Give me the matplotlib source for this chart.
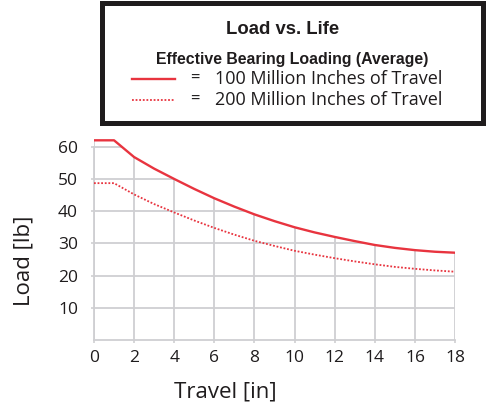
import numpy as np
import matplotlib
matplotlib.use("Agg")
import matplotlib.pyplot as plt
from matplotlib.patches import Rectangle
from matplotlib.lines import Line2D

# travel [in] and load [lb]
travel = [0, 1, 2, 3, 4, 5, 6, 7, 8, 9, 10, 11, 12, 13, 14, 15, 16, 17, 18]
load_100 = [62, 62, 56.8, 53.2, 50, 46.9, 44, 41.4, 39, 36.9, 35, 33.4, 32, 30.7, 29.5, 28.6, 27.9, 27.4, 27.1]
load_200 = [48.7, 48.7, 45.2, 42.2, 39.6, 37.1, 34.8, 32.7, 30.8, 29.2, 27.7, 26.5, 25.4, 24.4, 23.5, 22.7, 22.1, 21.6, 21.2]
xticks = [0, 2, 4, 6, 8, 10, 12, 14, 16, 18]
yticks = [10, 20, 30, 40, 50, 60]

red = "#e8343f"
grid_col = "#cfcfd2"
txt = "#1f1c1d"
num_font = "Open Sans"

fig = plt.figure(figsize=(4.92, 4.05), dpi=100)
ax = fig.add_axes([0.191, 0.1605, 0.734, 0.501])

ax.set_xlim(0, 18)
ax.set_ylim(0, 63)
ax.set_xticks(xticks)
ax.set_yticks(yticks)
ax.set_xticklabels([str(v) for v in xticks], fontfamily=num_font, fontsize=12.5)
ax.set_yticklabels([str(v) for v in yticks], fontfamily=num_font, fontsize=12.5)

# grid only below the solid curve
under = ax.fill_between(travel, 0, load_100, color="none", lw=0)
clip = under.get_paths()[0]
ax.grid(True, color=grid_col, lw=1.3)
for t in ax.xaxis.get_major_ticks() + ax.yaxis.get_major_ticks():
    t.gridline.set_clip_path(clip, ax.transData)

ax.plot(travel, load_100, color=red, lw=1.7, zorder=3)
ax.plot(travel, load_200, color=red, lw=1.3, ls=(0, (1, 1)), zorder=3)

for s in ["top", "right"]:
    ax.spines[s].set_visible(False)
ax.spines["left"].set_bounds(0, 60)
ax.spines["left"].set_color(grid_col)
ax.spines["bottom"].set_color(grid_col)
ax.spines["left"].set_linewidth(1.3)
ax.spines["bottom"].set_linewidth(1.3)
ax.tick_params(axis="both", colors=grid_col, length=2.5, width=1.2, labelcolor=txt)
ax.tick_params(axis="y", pad=9)
ax.tick_params(axis="x", pad=5)

ax.set_xlabel("Travel [in]", fontfamily=num_font, fontsize=16, color=txt)
ax.xaxis.set_label_coords(0.363, -0.205)
ax.set_ylabel("Load [lb]", fontfamily=num_font, fontsize=16, color=txt)
ax.yaxis.set_label_coords(-0.165, 0.39)

# legend box
fig.patches.append(Rectangle((0.207, 0.696), 0.774, 0.296, transform=fig.transFigure,
                             fill=False, edgecolor=txt, lw=3.6))
fig.text(0.575, 0.926, "Load vs. Life", ha="center", va="center",
         fontfamily="Liberation Sans", fontweight="bold", fontsize=13.3, color=txt)
fig.text(0.594, 0.852, "Effective Bearing Loading (Average)", ha="center", va="center",
         fontfamily="Liberation Sans", fontweight="bold", fontsize=11.4, color=txt)
fig.lines.append(Line2D([0.268, 0.356], [0.805, 0.805], transform=fig.transFigure,
                        color=red, lw=1.7))
fig.lines.append(Line2D([0.268, 0.356], [0.753, 0.753], transform=fig.transFigure,
                        color=red, lw=1.3, ls=(0, (1, 1))))
fig.text(0.397, 0.805, "=", ha="center", va="center", fontfamily=num_font, fontsize=12, color=txt)
fig.text(0.397, 0.753, "=", ha="center", va="center", fontfamily=num_font, fontsize=12, color=txt)
fig.text(0.437, 0.805, "100 Million Inches of Travel", ha="left", va="center",
         fontfamily=num_font, fontsize=13, color=txt)
fig.text(0.437, 0.753, "200 Million Inches of Travel", ha="left", va="center",
         fontfamily=num_font, fontsize=13, color=txt)

fig.savefig("out.png", dpi=100)
